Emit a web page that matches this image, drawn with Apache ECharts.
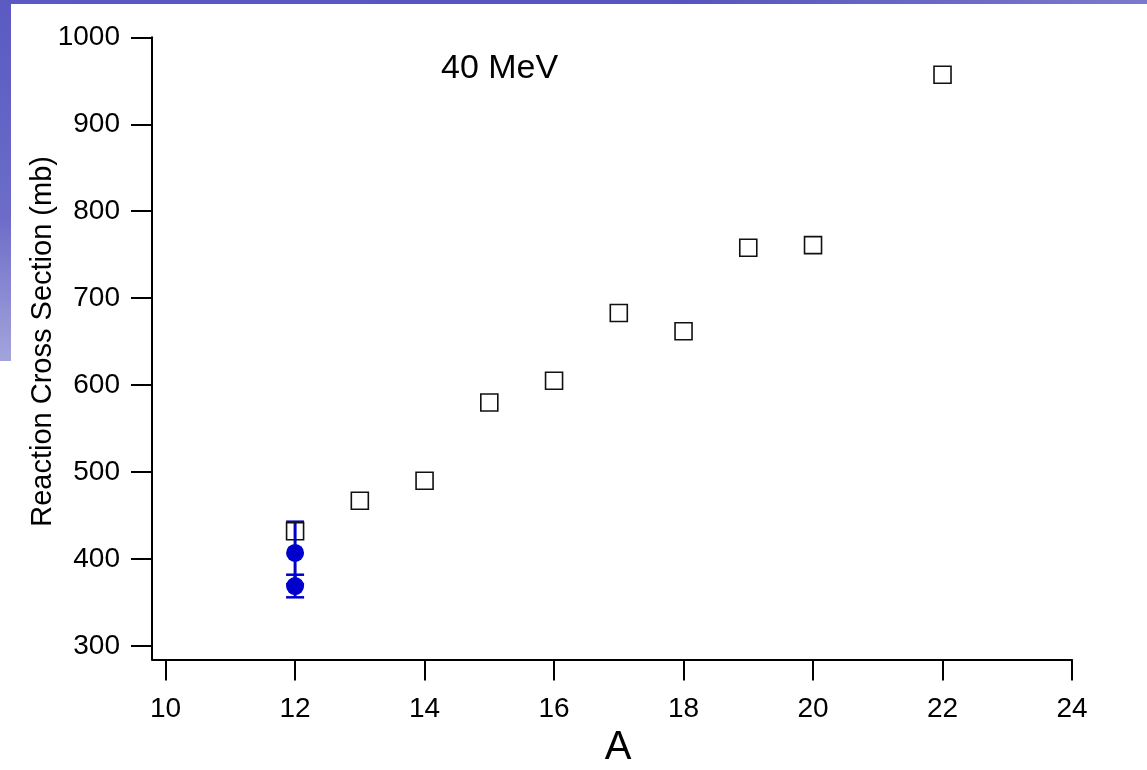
<!DOCTYPE html>
<html>
<head>
<meta charset="utf-8">
<title>Reaction Cross Section vs A (40 MeV)</title>
<script src="https://cdn.jsdelivr.net/npm/echarts@6/dist/echarts.min.js"></script>
<style>
  html, body { margin: 0; padding: 0; background: #ffffff; }
  #chart { width: 1147px; height: 770px; }
</style>
</head>
<body>
<div id="chart"></div>
<script>
// Mass number A and reaction cross sections (mb), open squares
const massNumbers = [12, 13, 14, 15, 16, 17, 18, 19, 20, 22];
const crossSections = [432, 467, 490, 580, 605, 683, 662, 758, 761, 957];

// Measured points at A = 12 with their errors (mb)
const measuredA = [12, 12];
const measuredValues = [407, 369];
const measuredErrors = [36, 13];

// Tick labels
const xTicks = [10, 12, 14, 16, 18, 20, 22, 24];
const yTicks = [300, 400, 500, 600, 700, 800, 900, 1000];

const FONT = 'Liberation Sans, Arial, Helvetica, sans-serif';
const BLUE = '#0000cc';

const squarePoints = massNumbers.map((a, i) => [a, crossSections[i]]);
const measuredPoints = measuredA.map((a, i) => [a, measuredValues[i], measuredErrors[i]]);

const chart = echarts.init(document.getElementById('chart'), null, { renderer: 'canvas' });

const axisStyle = { color: '#000', width: 2 };
const plainNumber = v => String(v);

chart.setOption({
  backgroundColor: '#ffffff',
  animation: false,
  title: {
    text: '40 MeV',
    left: 441,
    top: 52,
    padding: 0,
    textStyle: { fontFamily: FONT, fontSize: 34, fontWeight: 'normal', color: '#000' }
  },
  graphic: [
    {
      type: 'rect', silent: true, z: -10,
      shape: { x: 0, y: 0, width: 1147, height: 4 },
      style: {
        fill: new echarts.graphic.LinearGradient(0, 0, 1, 0, [
          { offset: 0, color: '#5a5ac2' },
          { offset: 0.6, color: '#5656be' },
          { offset: 1, color: '#7a7acc' }
        ])
      }
    },
    {
      type: 'rect', silent: true, z: -10,
      shape: { x: 0, y: 0, width: 11, height: 361 },
      style: {
        fill: new echarts.graphic.LinearGradient(0, 0, 0, 1, [
          { offset: 0, color: '#5a5ac2' },
          { offset: 0.6, color: '#6c6cc8' },
          { offset: 1, color: '#a4a4dc' }
        ])
      }
    }
  ],
  grid: {
    left: 152, right: 75, top: 37.3, bottom: 110.5,
    containLabel: false,
    outerBoundsMode: 'none'
  },
  xAxis: {
    type: 'value',
    min: 9.79,
    max: 24,
    name: 'A',
    nameLocation: 'middle',
    nameGap: 68,
    nameMoveOverlap: false,
    nameTextStyle: { fontFamily: FONT, fontSize: 40, color: '#000', padding: [0, 0, 0, 12] },
    axisLine: { show: true, onZero: false, lineStyle: axisStyle },
    axisTick: { show: true, inside: false, length: 21, customValues: xTicks, lineStyle: axisStyle },
    axisLabel: { customValues: xTicks, formatter: plainNumber, margin: 36, fontFamily: FONT, fontSize: 28, color: '#000' },
    splitLine: { show: false }
  },
  yAxis: {
    type: 'value',
    min: 284.5,
    max: 1000,
    name: 'Reaction Cross Section (mb)',
    nameLocation: 'middle',
    nameGap: 95,
    nameMoveOverlap: false,
    nameRotate: 90,
    nameTextStyle: { fontFamily: FONT, fontSize: 29, color: '#000', padding: [0, 0, 0, 14] },
    axisLine: { show: true, onZero: false, lineStyle: axisStyle },
    axisTick: { show: true, inside: false, length: 21, customValues: yTicks, lineStyle: axisStyle },
    axisLabel: { customValues: yTicks, formatter: plainNumber, margin: 32, fontFamily: FONT, fontSize: 28, color: '#000' },
    splitLine: { show: false }
  },
  series: [
    {
      // error bars for the measured points
      type: 'custom',
      z: 2,
      data: measuredPoints,
      renderItem: function (params, api) {
        const a = api.value(0);
        const v = api.value(1);
        const e = api.value(2);
        const top = api.coord([a, v + e]);
        const bot = api.coord([a, v - e]);
        const hw = 9;
        return {
          type: 'group',
          children: [
            { type: 'line', shape: { x1: top[0], y1: top[1], x2: bot[0], y2: bot[1] },
              style: { stroke: BLUE, lineWidth: 3 } },
            { type: 'line', shape: { x1: top[0] - hw, y1: top[1], x2: top[0] + hw, y2: top[1] },
              style: { stroke: BLUE, lineWidth: 2.5 } },
            { type: 'line', shape: { x1: bot[0] - hw, y1: bot[1], x2: bot[0] + hw, y2: bot[1] },
              style: { stroke: BLUE, lineWidth: 2.5 } }
          ]
        };
      }
    },
    {
      type: 'scatter',
      z: 3,
      data: measuredPoints.map(p => [p[0], p[1]]),
      symbol: 'circle',
      symbolSize: 18,
      itemStyle: { color: BLUE, opacity: 1 }
    },
    {
      type: 'scatter',
      z: 4,
      data: squarePoints,
      symbol: 'rect',
      symbolSize: 17,
      itemStyle: { color: 'rgba(255,255,255,0)', borderColor: '#111', borderWidth: 1.6, opacity: 1 }
    }
  ]
});
</script>
</body>
</html>
